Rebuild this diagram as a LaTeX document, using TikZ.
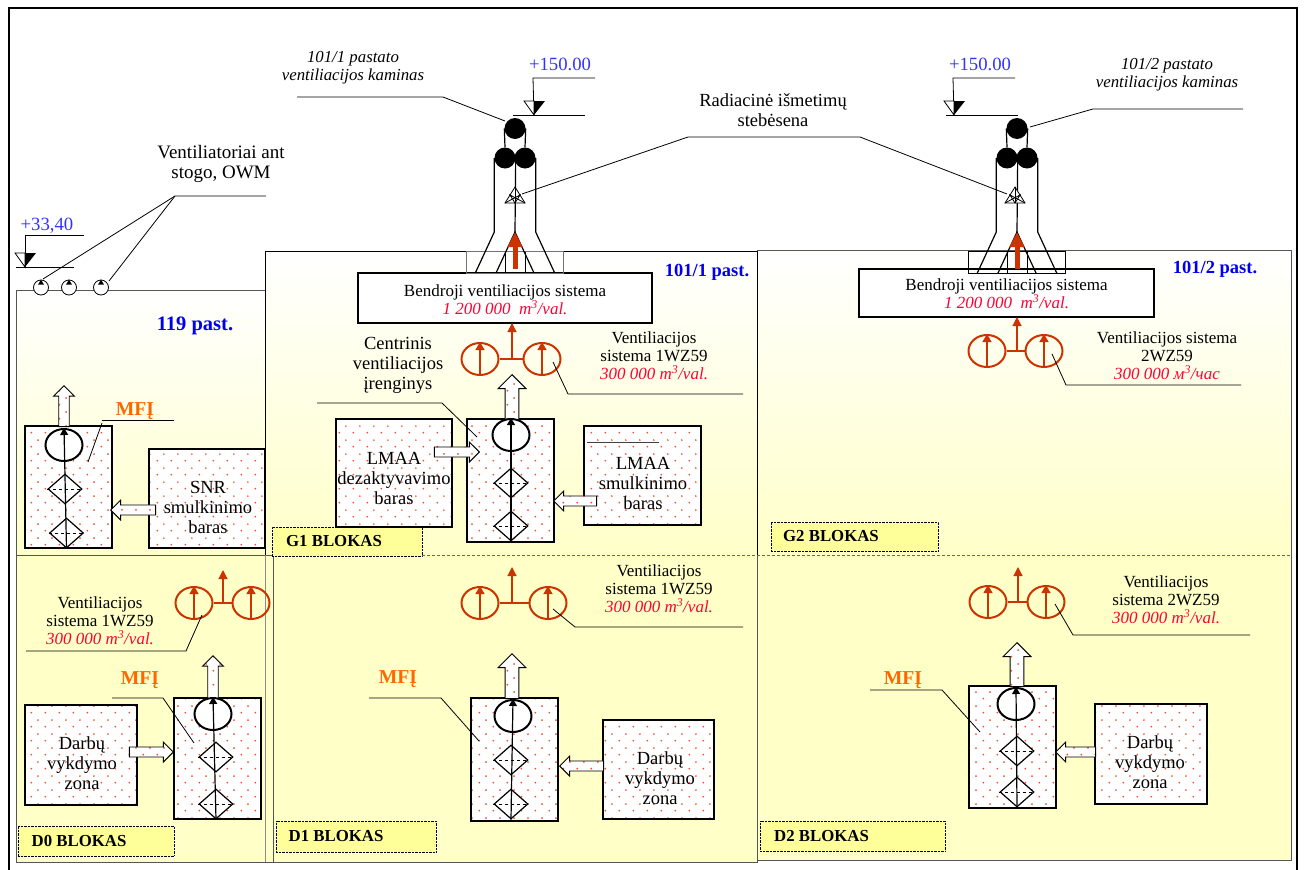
\documentclass[tikz,border=0pt]{standalone}
\usepackage{fontspec}
\setmainfont{Liberation Serif}
\usetikzlibrary{arrows.meta,calc,patterns,shapes.arrows,shapes.geometric}

\definecolor{paleyellow}{HTML}{FFFFC8}
\definecolor{tabyellow}{HTML}{FFFF99}
\definecolor{fanred}{HTML}{CC3300}
\definecolor{valred}{HTML}{FF0033}
\definecolor{dotred}{HTML}{F0502C}
\definecolor{mfiorange}{HTML}{FF6600}
\definecolor{levelblue}{HTML}{3333FF}
\definecolor{pastblue}{HTML}{0000F0}
\definecolor{zonegray}{HTML}{555555}

\pgfdeclarepatternformonly{reddots}{\pgfpointorigin}{\pgfpoint{14pt}{14pt}}{\pgfpoint{14pt}{14pt}}{
    \pgfpathcircle{\pgfpoint{3.5pt}{3.5pt}}{1.05pt}
    \pgfpathcircle{\pgfpoint{10.5pt}{10.5pt}}{1.05pt}
    \pgfusepath{fill}
}

\tikzset{
    dotfill/.style = {preaction={fill=white}, pattern=reddots, pattern color=dotred},
    dotbox/.style = {draw, dotfill, line width=1.5pt, inner sep=0pt},
    blockarrow/.style n args = {3}{single arrow, draw, dotfill, line width=0.9pt, inner xsep=0pt, inner ysep=#3*0.24, anchor=tip,
        rotate=#1, minimum height=#2, single arrow head extend=#3*0.26},
    basetext/.style = {inner sep=0pt, align=center, font=\fontsize{17}{18}\selectfont},
    boxtext/.style = {inner sep=0pt, align=center, font=\fontsize{18.5}{20}\selectfont},
    nametext/.style = {inner sep=0pt, align=center, font=\itshape\fontsize{16.8}{18}\selectfont},
    leveltext/.style = {inner sep=0pt, text=levelblue, font=\fontsize{18.7}{20}\selectfont},
    pasttext/.style = {inner sep=0pt, text=pastblue, font=\bfseries\fontsize{18.5}{20}\selectfont},
    mfitext/.style = {inner sep=0pt, text=mfiorange, font=\bfseries\fontsize{19.7}{20}\selectfont},
    blocktab/.style = {draw, densely dotted, fill=tabyellow, inner sep=0pt, font=\bfseries\fontsize{16.8}{18}\selectfont},
    leaderline/.style = {line width=0.8pt},
    fanbody/.style = {ellipse, draw=fanred, line width=2pt, inner sep=0pt, minimum width=37, minimum height=32},
    fanline/.style = {draw=fanred, line width=1.2pt},
    unitfan/.style = {ellipse, draw, fill=white, line width=2pt, inner sep=0pt, minimum width=37, minimum height=32},
    unitfilter/.style = {diamond, draw, fill=white, line width=1.2pt, inner sep=0pt, minimum width=34, minimum height=30},
    stackball/.style = {circle, fill=black, inner sep=0pt, minimum size=21},
    roofball/.style = {circle, draw, fill=white, line width=0.8pt, inner sep=0pt, minimum size=15},
    mainbox/.style = {draw, fill=white, line width=1.4pt, inner sep=0pt},
}

\newcommand{\flowval}[1]{{\color{valred}\itshape #1}}

% leader line with a knee
\newcommand{\leader}[4]{
    \coordinate (#1 a) at (#2);
    \coordinate (#1 b) at (#3);
    \coordinate (#1 c) at (#4);
    \draw[leaderline] (#1 a) -- (#1 b) -- (#1 c);
}

% name, x of the flag, x of the end, y of the flag, x of the mark, y of the base, base from, base to
\newcommand{\levelmark}[8]{
    \coordinate (#1 s) at (#2,#4);
    \coordinate (#1 e) at (#3,#4);
    \coordinate (#1 p) at (#5,#6);
    \draw[leaderline] (#1 e) -- (#1 s) -- (#1 p);
    \draw[leaderline, fill=white] ($(#1 p)+(-10,-14)$) -- ($(#1 p)+(0,-14)$) -- (#1 p) -- cycle;
    \fill ($(#1 p)+(0,-14)$) -- ($(#1 p)+(11,-14)$) -- (#1 p) -- cycle;
    \draw[leaderline] (#7,#6) -- (#8,#6);
}

% name, x of the stack, x of the detector, colour of the collar
\newcommand{\stack}[4]{
    \draw[line width=0.8pt, draw=#4] (#1-48.5,251) rectangle (#1+48.5,273);
    \node[stackball] (#2 t) at (#1,128.5) {};
    \node[stackball] (#2 l) at (#1-10,158) {};
    \node[stackball] (#2 r) at (#1+10,158) {};
    \coordinate (#2 m) at (#1,232);
    \draw[line width=1.2pt] (#2 t.west) -- (#2 l.north) (#2 t.east) -- (#2 r.north);
    \draw[line width=1.2pt] (#2 l.west) -- ++(0,74) -- ++(-19,41);
    \draw[line width=1.2pt] (#2 r.east) -- ++(0,74) -- ++(19,41);
    \draw[line width=1.2pt] (#2 l.east) -- (#2 m);
    \draw[line width=1.2pt] (#1-19,273) -- (#2 m) -- (#1+19,273);
    \draw[line width=1pt] (#1-10,252) -- (#1-10,273) (#1+10,252) -- (#1+10,273);
    \draw[-{Triangle[length=15pt,width=14pt]}, fanred, line width=5pt] (#1,269) -- (#2 m);
    \coordinate (#2 da) at (#3-10,203);
    \coordinate (#2 db) at (#3+10,203);
    \coordinate (#2 dc) at (#3,187);
    \draw[line width=0.8pt, fill=white] (#2 da) -- (#2 db) -- (#2 dc) -- cycle;
    \draw[line width=0.8pt] (#2 da) -- ($(#2 db)!.5!(#2 dc)$) -- ($(#2 da)!.5!(#2 db)$) -- ($(#2 da)!.5!(#2 dc)$) -- (#2 db);
    \draw[line width=0.8pt] (#2 dc) -- ($(#2 da)!.5!(#2 db)$);
}

% name, x left, x right, y, x of the stem, top of the stem
\newcommand{\fanset}[6]{
    \node[fanbody] (#1 l) at (#2,#4) {};
    \node[fanbody] (#1 r) at (#3,#4) {};
    \coordinate (#1 j) at (#5,#4);
    \coordinate (#1 t) at (#5,#6);
    \draw[fanline] (#1 l) -- (#1 r);
    \draw[fanline, fanred, -{Triangle[length=9pt,width=9pt]}] (#1 j) -- (#1 t);
    \draw[fanline, fanred, -{Triangle[length=8pt,width=9pt]}] (#1 l.south) -- (#1 l.north);
    \draw[fanline, fanred, -{Triangle[length=8pt,width=9pt]}] (#1 r.south) -- (#1 r.north);
}

% name, fan x, fan y, upper filter x, y, lower filter x, y
\newcommand{\unitparts}[7]{
    \node[unitfan] (#1 e) at (#2,#3) {};
    \node[unitfilter] (#1 a) at (#4,#5) {};
    \node[unitfilter] (#1 b) at (#6,#7) {};
    \draw[dashed, line width=0.7pt] (#1 a.west) -- (#1 a.east);
    \draw[dashed, line width=0.7pt] (#1 b.west) -- (#1 b.east);
    \draw[line width=1.2pt, -{Triangle[length=7pt,width=8pt]}] (#1 b.south) -- (#1 e.north);
}

\begin{document}
\begin{tikzpicture}[x=1pt, y=-1pt]
\useasboundingbox (0,0) rectangle (1304,870);

% zones
\shade[top color=white, bottom color=paleyellow] (16,290) rectangle (265,555);
\shade[top color=white, bottom color=paleyellow] (265,251) rectangle (757,555);
\shade[top color=white, bottom color=paleyellow] (757,250) rectangle (1291,555);
\fill[paleyellow] (16,555) rectangle (273,862);
\fill[paleyellow] (273,555) rectangle (757,862);
\fill[paleyellow] (757,555) rectangle (1291,860);
\draw[zonegray] (16,555) -- (16,290) -- (265,290);
\draw[zonegray] (16,555) -- (272,555);
\draw (265,555) -- (265,251) -- (757,251) -- (757,555);
\draw[zonegray] (757,250) -- (1291,250) -- (1291,860) -- (757,860);
\draw[zonegray] (16,555) -- (16,862) -- (757,862) -- (757,555);
\draw[zonegray] (273,555) -- (273,862);
\draw[black!45] (265,555) -- (265,862);
\draw[black!60, line width=0.7pt, dash pattern=on 3pt off 2pt] (272,555.5) -- (1291,555.5);
\draw[line width=2.2pt] (9,870) -- (9,8) -- (1297,8) -- (1297,870);

% block tabs
\node[blocktab, minimum width=150, minimum height=29] (tabgone) at (347,541.5) {\hspace*{-26pt}G1 BLOKAS};
\node[blocktab, minimum width=167, minimum height=29] (tabgtwo) at (854.5,536.5) {\hspace*{-47pt}G2 BLOKAS};
\node[blocktab, minimum width=156, minimum height=30] (tabdzero) at (96,841) {\hspace*{-34pt}D0 BLOKAS};
\node[blocktab, minimum width=160, minimum height=31] (tabdone) at (356,836.5) {\hspace*{-40pt}D1 BLOKAS};
\node[blocktab, minimum width=185, minimum height=30] (tabdtwo) at (852.5,836) {\hspace*{-62pt}D2 BLOKAS};

% main ducts, stacks
\node[mainbox, minimum width=294, minimum height=50] (ductone) at (505,298) {};
\node[mainbox, minimum width=295, minimum height=48] (ducttwo) at (1006.5,293) {};
\stack{515}{stone}{515}{black!55}
\stack{1017}{sttwo}{1015}{black}
\node[basetext] (ductonetxt) at (505,300) {Bendroji ventiliacijos sistema\\\flowval{1 200 000\ \ m\textsuperscript{3}/val.}};
\node[basetext] (ducttwotxt) at (1006.5,294) {Bendroji ventiliacijos sistema\\\flowval{1 200 000\ \ m\textsuperscript{3}/val.}};

% level marks
\levelmark{lvone}{533}{595}{78}{534}{115}{513}{585}
\levelmark{lvtwo}{953}{1015}{78}{954}{115}{946}{1018}
\levelmark{lvroof}{25}{84}{235}{25}{267}{16}{74}
\node[leveltext] (lvonetxt) at (560,64) {+150.00};
\node[leveltext] (lvtwotxt) at (980,64) {+150.00};
\node[leveltext] (lvrooftxt) at (47,226) {+33,40};

% roof fans
\foreach \rfx/\rfn in {41/rfa,69/rfb,101/rfc}{
    \node[roofball] (\rfn) at (\rfx,287.5) {};
    \fill ([shift={(-3,5)}]\rfn.north) -- ([shift={(3,5)}]\rfn.north) -- (\rfn.north) -- cycle;
}
\coordinate (rfknee) at (175,196);
\coordinate (rfend) at (266,196);
\coordinate (rfaend) at (43,279);
\coordinate (rfcend) at (109,281);
\draw[leaderline] (rfaend) -- (rfknee) -- (rfend);
\draw[leaderline] (rfcend) -- (rfknee);

% captions at the top
\node[nametext] (nameone) at (353,68) {101/1 pastato\\ventiliacijos kaminas};
\node[nametext] (nametwo) at (1167,75) {101/2 pastato\\ventiliacijos kaminas};
\node[basetext, font=\fontsize{19}{20}\selectfont] (rooftxt) at (221,164) {Ventiliatoriai ant\\stogo, OWM};
\node[boxtext] (radtxt) at (773,110) {Radiacinė išmetimų\\stebėsena};
\leader{ldnameone}{297,97}{443,97}{505,121}
\leader{ldnametwo}{1243,109}{1093,109}{1030,127}
\coordinate (radfar) at (1007,194);
\coordinate (radknee) at (860,137);
\coordinate (radkneeb) at (688,137);
\coordinate (radnear) at (522,194);
\draw[leaderline] (radnear) -- (radkneeb) -- (radknee) -- (radfar);

\node[pasttext] (pastone) at (707,272) {101/1 past.};
\node[pasttext] (pasttwo) at (1215,269) {101/2 past.};
\node[pasttext, font=\bfseries\fontsize{20.5}{20}\selectfont] (pastzero) at (195,326) {119 past.};

% fans
\fanset{fgone}{480}{542}{359}{512}{323}
\fanset{fgtwo}{987}{1044}{351}{1017}{317}
\fanset{fdzero}{194}{251}{603}{223}{570}
\fanset{fdone}{480}{548}{603}{512}{567}
\fanset{fdtwo}{988}{1046}{602}{1018}{567}

\node[basetext] (fgonetxt) at (654,356) {Ventiliacijos\\sistema 1WZ59\\\flowval{300 000 m\textsuperscript{3}/val.}};
\node[basetext] (fgtwotxt) at (1167,356) {Ventiliacijos sistema\\2WZ59\\\flowval{300 000 м\textsuperscript{3}/час}};
\node[basetext] (fdzerotxt) at (100,621) {Ventiliacijos\\sistema 1WZ59\\\flowval{300 000 m\textsuperscript{3}/val.}};
\node[basetext] (fdonetxt) at (659,589) {Ventiliacijos\\sistema 1WZ59\\\flowval{300 000 m\textsuperscript{3}/val.}};
\node[basetext] (fdtwotxt) at (1166,600) {Ventiliacijos\\sistema 2WZ59\\\flowval{300 000 m\textsuperscript{3}/val.}};
\leader{ldfgone}{553,362}{568,394}{743,394}
\leader{ldfgtwo}{1052,354}{1066,385}{1241,385}
\leader{ldfdzero}{202,615}{186,651}{26,651}
\leader{ldfdone}{553,609}{575,627}{743,627}
\leader{ldfdtwo}{1055,604}{1073,635}{1250,635}

% rooms
\node[dotbox, minimum width=116, minimum height=99] (snr) at (207,498.5) {};
\node[dotbox, minimum width=116, minimum height=108] (lmaad) at (394,473) {};
\node[dotbox, minimum width=117, minimum height=99] (lmaas) at (642.5,475.5) {};
\node[dotbox, minimum width=112, minimum height=100] (workzero) at (81,755) {};
\node[dotbox, minimum width=111, minimum height=99] (workone) at (658.5,769.5) {};
\node[dotbox, minimum width=112, minimum height=100] (worktwo) at (1151,754) {};
\draw[black!75, line width=1pt] (587,442) -- (659,442);

\node[boxtext] (snrtxt) at (208,507) {SNR\\smulkinimo\\baras};
\node[boxtext] (lmaadtxt) at (394,478) {LMAA\\dezaktyvavimo\\baras};
\node[boxtext] (lmaastxt) at (643,483) {LMAA\\smulkinimo\\baras};
\node[boxtext] (workzerotxt) at (82,763) {Darbų\\vykdymo\\zona};
\node[boxtext] (workonetxt) at (660,778) {Darbų\\vykdymo\\zona};
\node[boxtext] (worktwotxt) at (1150,762) {Darbų\\vykdymo\\zona};

% MFI units
\node[dotbox, minimum width=87, minimum height=122] (unitz) at (68.5,487) {};
\node[dotbox, minimum width=87, minimum height=123] (unitg) at (510.5,480.5) {};
\node[dotbox, minimum width=87, minimum height=121] (unitd) at (217.5,758.5) {};
\node[dotbox, minimum width=87, minimum height=123] (unite) at (514.5,759.5) {};
\node[dotbox, minimum width=87, minimum height=122] (unitf) at (1012.5,747) {};

\node[blockarrow={90}{41}{20}] (upz) at (64,385) {};
\node[blockarrow={90}{45}{27}] (upg) at (512,374) {};
\node[blockarrow={90}{43}{20}] (upd) at (213,655) {};
\node[blockarrow={90}{45}{27}] (upe) at (512,653) {};
\node[blockarrow={90}{44}{27}] (upf) at (1017,642) {};
\node[blockarrow={180}{45}{19}] (snrin) at (110,510) {};
\node[blockarrow={0}{45}{19}] (lmaadin) at (480,452) {};
\node[blockarrow={180}{43}{19}] (lmaasin) at (553,501) {};
\node[blockarrow={0}{44}{19}] (workzin) at (174,752) {};
\node[blockarrow={180}{44}{19}] (workoin) at (559,766) {};
\node[blockarrow={180}{40}{19}] (worktin) at (1055,752) {};

\unitparts{pz}{64}{445}{65}{489}{66.5}{533}
\unitparts{pg}{511}{435}{511}{483}{511}{526}
\unitparts{pd}{213}{714}{216}{757}{216}{804}
\unitparts{pe}{513}{716}{511}{760}{511}{804}
\unitparts{pf}{1016}{704}{1017}{751}{1017}{792}

% MFI and unit labels
\node[mfitext] (mfiz) at (135,411) {MFĮ};
\node[mfitext] (mfid) at (140,680) {MFĮ};
\node[mfitext] (mfie) at (398,679) {MFĮ};
\node[mfitext] (mfif) at (903,680) {MFĮ};
\coordinate (mfizl) at (102,420);
\coordinate (mfizr) at (174,420);
\coordinate (mfizt) at (102,423);
\coordinate (mfizu) at (88,462);
\draw[leaderline] (mfizl) -- (mfizr);
\draw[leaderline] (mfizt) -- (mfizu);
\leader{ldmfid}{112,698}{163,698}{194,743}
\leader{ldmfie}{369,698}{441,698}{479,741}
\leader{ldmfif}{870,690}{942,690}{980,732}

\node[boxtext] (centtxt) at (398,365) {Centrinis\\ventiliacijos\\įrenginys};
\leader{ldcent}{317,403}{442,403}{477,437}

\end{tikzpicture}
\end{document}
